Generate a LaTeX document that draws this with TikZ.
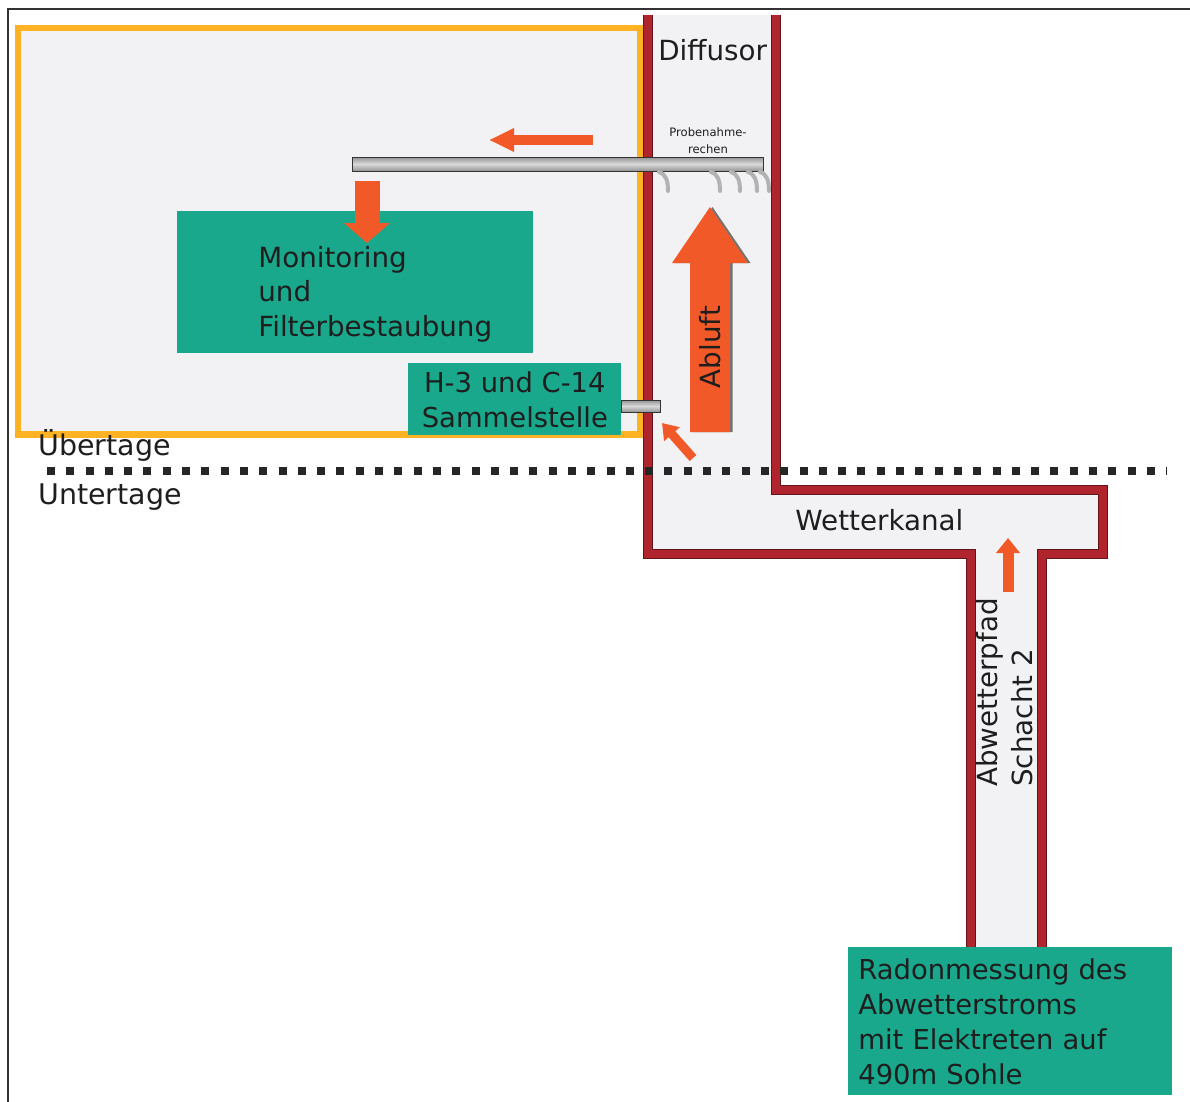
\documentclass[tikz,border=0pt]{standalone}
\usepackage{fontspec}
\setmainfont{DejaVu Sans}
\usetikzlibrary{arrows.meta,calc,positioning}
\definecolor{wallred}{RGB}{176,36,46}
\definecolor{frameorange}{RGB}{255,178,36}
\definecolor{boxteal}{RGB}{26,168,140}
\definecolor{flowred}{RGB}{241,90,40}
\definecolor{shaftgrey}{RGB}{242,242,245}
\definecolor{inktext}{RGB}{30,30,30}
\tikzstyle{wall} = [wallred, line width=0.16cm, preaction={draw=wallred!55!black, line width=0.19cm}]
\tikzstyle{tealbox} = [fill=boxteal, text=inktext, inner sep=0pt, font=\fontsize{15.6}{19.9}\selectfont]
\tikzstyle{plaintext} = [text=inktext, inner sep=0pt, font=\fontsize{15.8}{19.9}\selectfont]
\tikzstyle{pipe} = [top color=gray!85, bottom color=gray!85, middle color=gray!30, draw=gray!40!black, line width=0.02cm]
\tikzstyle{hook} = [gray!60, line width=0.08cm, line cap=round]
\tikzstyle{flowarrow} = [flowred]

\begin{document}
\begin{tikzpicture}[x=0.02cm,y=-0.02cm]
\useasboundingbox (0,0) rectangle (1190,1102);
\draw [black!80, line width=0.04cm] (1190,9) -- (8,9) -- (8,1102);

\draw [frameorange, fill=shaftgrey, line width=0.14cm] (18,28) rectangle (640,434);

\fill [shaftgrey] (648,15) -- (648,554) -- (971,554) -- (971,947) -- (1042,947) -- (1042,554) -- (1103,554) -- (1103,490) -- (776,490) -- (776,15) -- cycle;
\draw [wall] (648,15) -- (648,554) -- (971,554) -- (971,947);
\draw [wall] (776,15) -- (776,490) -- (1103,490) -- (1103,554) -- (1042,554) -- (1042,947);

\node [tealbox, minimum width=7.12cm, minimum height=2.84cm, anchor=north west] (monitor) at (177,211) {};
\node [plaintext, align=left, right=1.62cm of monitor.west, yshift=-0.24cm] (monitortext) {Monitoring\\und\\Filterbestaubung};
\node [tealbox, minimum width=4.26cm, minimum height=1.44cm, align=center, anchor=north west] (sammel) at (408,363) {H-3 und C-14\\Sammelstelle};
\node [tealbox, minimum width=6.48cm, minimum height=2.96cm, text width=6.08cm, align=left, anchor=north west] (radon) at (848,947) {Radonmessung des\\Abwetterstroms\\mit Elektreten auf\\490m Sohle};

\coordinate (rechenL) at (352,157);
\coordinate (rechenR) at (763,171);
\shade [pipe] (rechenL) rectangle (rechenR);
\shade [pipe] (sammel.east |- 0,400) rectangle (660,412);
\foreach \hx in {659,711,731,748,760}
  \draw [hook] (\hx,172) .. controls (\hx+7,174) and (\hx+9,181) .. (\hx+9,191);
\node [plaintext, align=center, font=\fontsize{6.6}{9.7}\selectfont] (rechen) at (708,141) {Probenahme-\\rechen};

\foreach \col/\dx in {black!55/0.05, flowred/0}
  \fill [\col, xshift=\dx cm] (710,207) -- (748,263) -- (730,263) -- (730,432) -- (690,432) -- (690,263) -- (672,263) -- cycle;
\node [plaintext, rotate=90] (abluft) at (710,347) {Abluft};

\coordinate (inA) at (593,140);
\coordinate (inB) at (489,140);
\coordinate (downA) at (367,181);
\coordinate (downB) at (367,243);
\coordinate (diagA) at (693,458);
\coordinate (diagB) at (662,423);
\coordinate (upA) at (1008,592);
\coordinate (upB) at (1008,538);
\draw [flowarrow, line width=0.2cm, -{Triangle[width=0.44cm,length=0.5cm]}] (inA) -- (inB);
\draw [flowarrow, line width=0.5cm, -{Triangle[width=0.9cm,length=0.4cm]}] (downA) -- (downB);
\draw [flowarrow, line width=0.18cm, -{Triangle[width=0.4cm,length=0.3cm]}] (diagA) -- (diagB);
\draw [flowarrow, line width=0.22cm, -{Triangle[width=0.46cm,length=0.3cm]}] (upA) -- (upB);

\draw [black!85, line width=0.16cm, dash pattern=on 0.16cm off 0.226cm] (47,471) -- (1167,471);

\node [plaintext, anchor=base west] (diffusor) at (658,60) {Diffusor};
\node [plaintext, anchor=base west, font=\fontsize{16.2}{19.9}\selectfont] (uebertage) at (38,455) {Übertage};
\node [plaintext, anchor=base west, font=\fontsize{16.2}{19.9}\selectfont] (untertage) at (38,504) {Untertage};
\node [plaintext, anchor=base west] (wetterkanal) at (795,530) {Wetterkanal};
\node [plaintext, rotate=90, align=left, anchor=west] (schacht) at (1005,787) {Abwetterpfad\\Schacht 2};

\end{tikzpicture}
\end{document}
